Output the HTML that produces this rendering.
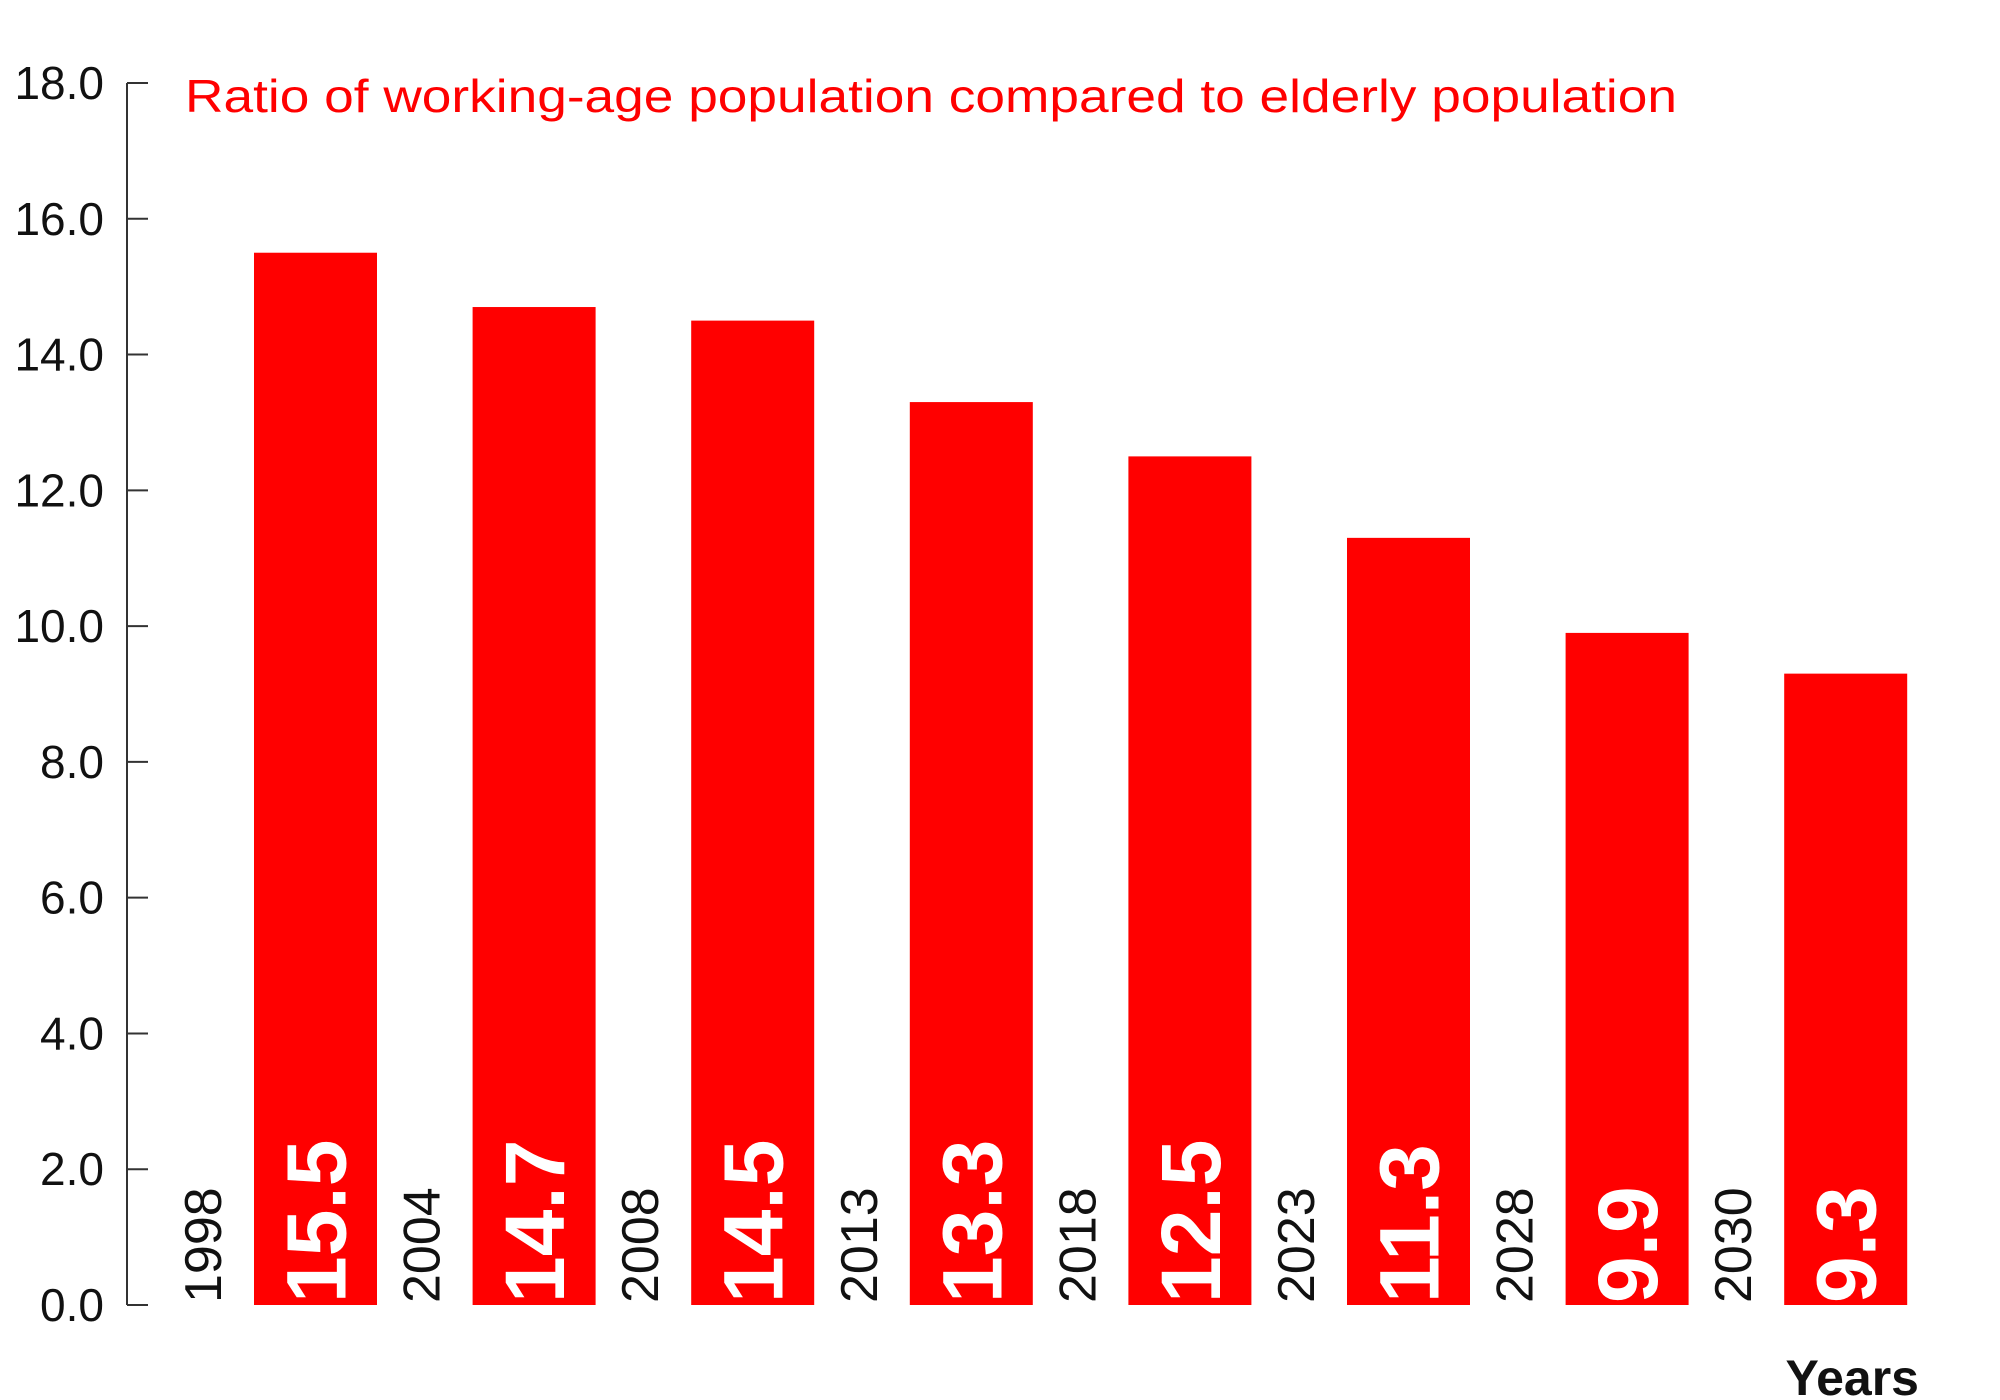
<!DOCTYPE html>
<html><head><meta charset="utf-8"><style>
html,body{margin:0;padding:0;background:#fff;}
svg{display:block;font-family:"Liberation Sans",sans-serif;}
</style></head><body>
<svg id="chart" width="2000" height="1400" viewBox="0 0 2000 1400">
<g id="axis"></g>
<g id="bars"></g>
<text x="185" y="112" fill="#ff0000" font-size="46" font-weight="300" textLength="1492" lengthAdjust="spacingAndGlyphs">Ratio of working-age population compared to elderly population</text>
<text x="1919" y="1395" fill="#111" font-size="50" font-weight="bold" text-anchor="end">Years</text>
</svg>
<script>
const categories = ["1998","2004","2008","2013","2018","2023","2028","2030"];
const values = [15.5,14.7,14.5,13.3,12.5,11.3,9.9,9.3];
const tickValues = [0,2,4,6,8,10,12,14,16,18];
const tickLabels = ["0.0","2.0","4.0","6.0","8.0","10.0","12.0","14.0","16.0","18.0"];

const NS="http://www.w3.org/2000/svg";
const y0=1305, yTop=83, vMax=18;
const yScale=v=>y0-(v/vMax)*(y0-yTop);
const xStart=254, step=218.6, barW=123;
const xScale=i=>xStart+i*step;
function mk(tag,attrs,parent){const e=document.createElementNS(NS,tag);for(const k in attrs)e.setAttribute(k,attrs[k]);parent.appendChild(e);return e;}
const axis=document.getElementById('axis');
const bars=document.getElementById('bars');
const line=mk('line',{x1:127,x2:127,y1:yTop,y2:y0,stroke:'#333','stroke-width':2},axis);


tickValues.forEach((v,i)=>{
  const y=yScale(v);
  const t=mk('line',{x1:127,x2:148,y1:y,y2:y,stroke:'#333','stroke-width':2},axis);
  
  
  const l=mk('text',{x:104,y:y+16,'text-anchor':'end','font-size':46,fill:'#111'},axis);
  l.textContent=tickLabels[i];
  
  
});
categories.forEach((c,i)=>{
  const x=xScale(i), y=yScale(values[i]);
  const r=mk('rect',{x:x,y:y,width:barW,height:y0-y,fill:'#ff0000'},bars);
  
  
  const yl=mk('text',{transform:`translate(${x-33},${y0-2}) rotate(-90)`,'font-size':52,fill:'#111'},bars);
  yl.textContent=c;
  
  
  const vl=mk('text',{transform:`translate(${x+barW/2+30},${y0-2}) rotate(-90)`,'font-size':84,'font-weight':'bold',fill:'#fff'},bars);
  vl.textContent=values[i].toFixed(1);
  
  
});
</script>
</body></html>
